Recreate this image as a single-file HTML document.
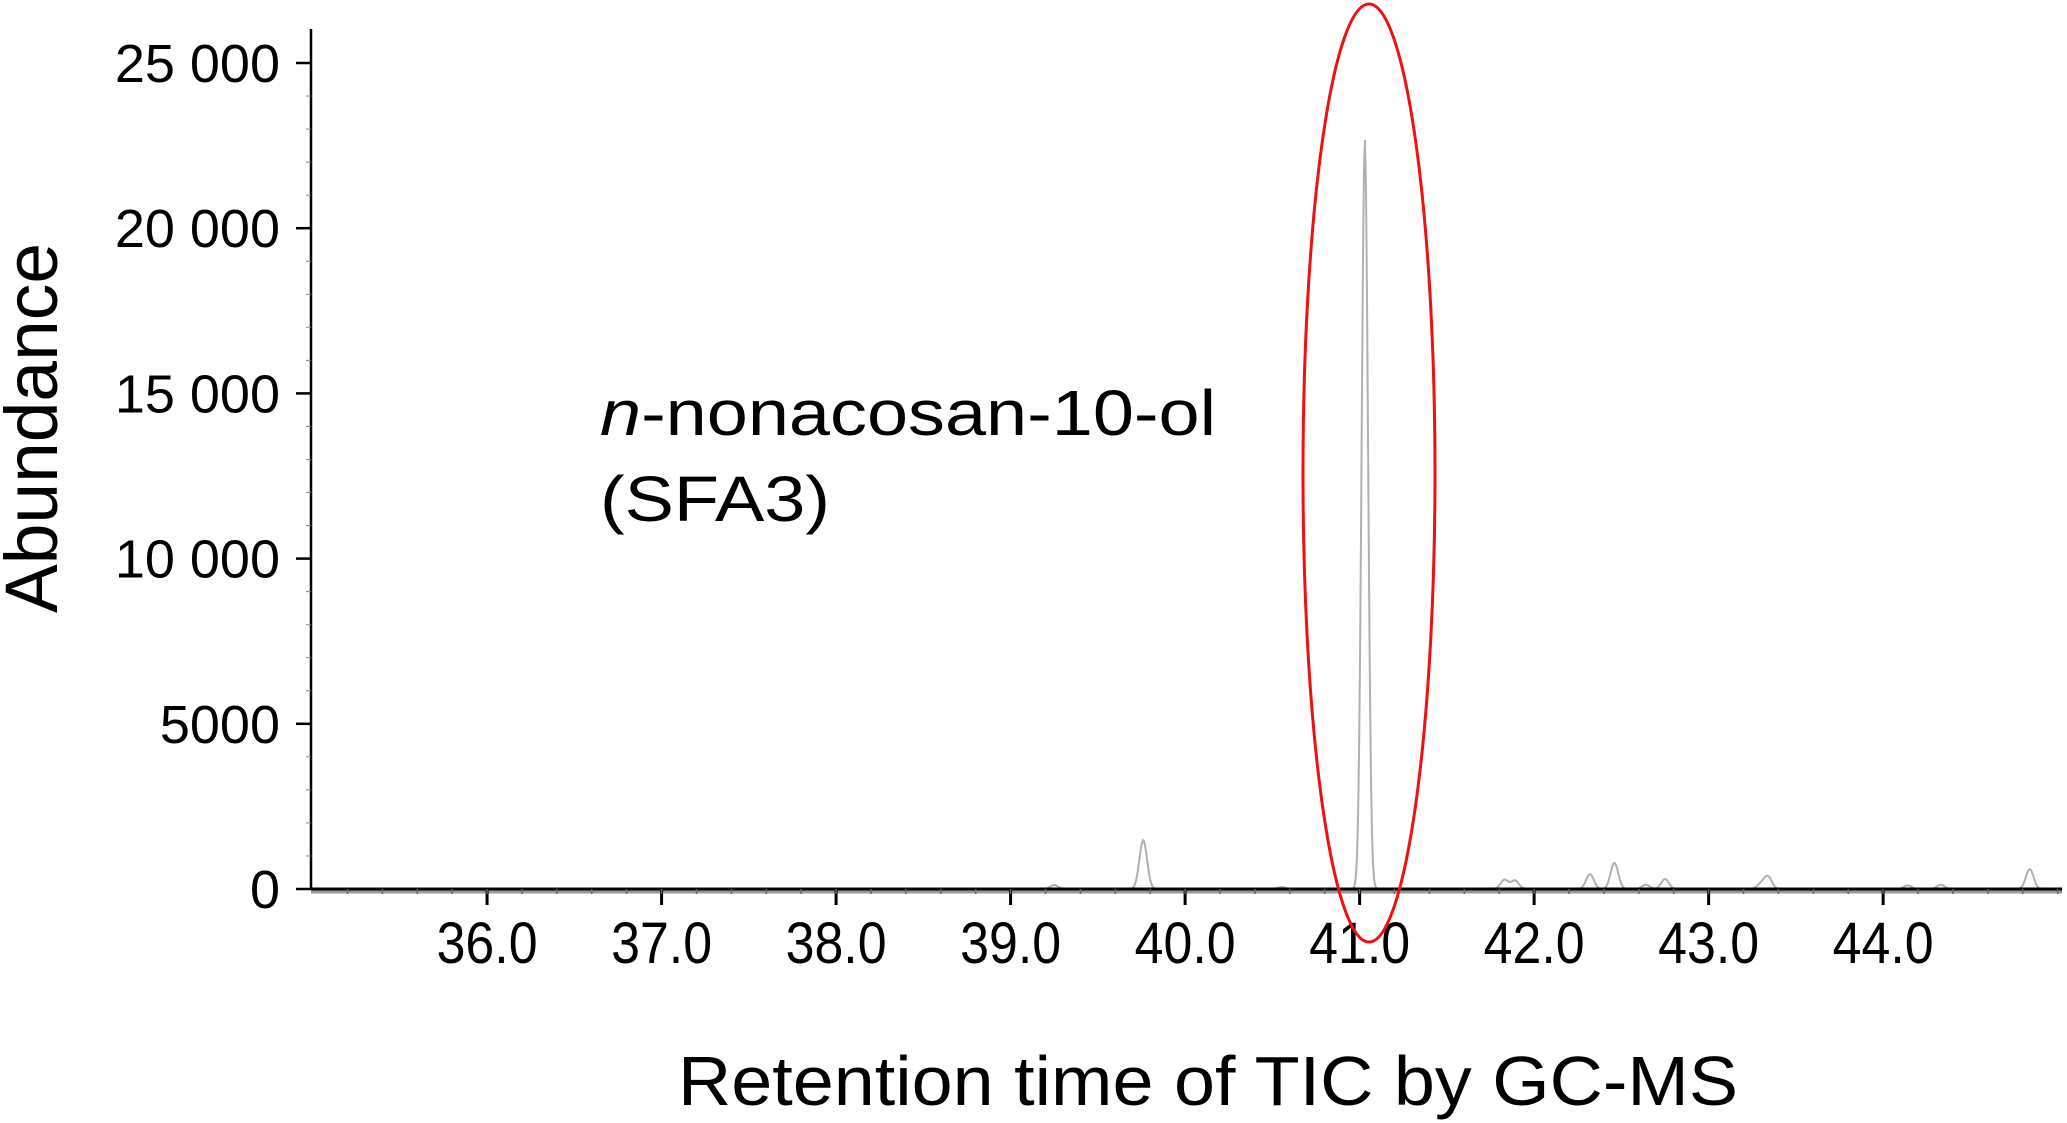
<!DOCTYPE html>
<html><head><meta charset="utf-8"><style>
html,body{margin:0;padding:0;background:#fff;}
svg{display:block;font-family:"Liberation Sans",Arial,sans-serif;}
</style></head><body>
<svg id="chart" width="2067" height="1123" viewBox="0 0 2067 1123" xmlns="http://www.w3.org/2000/svg">
<g id="trace"></g>
<g id="axes"></g>
<text x="0" y="0" transform="translate(57,428) rotate(-90)" text-anchor="middle" font-size="74" textLength="370" lengthAdjust="spacingAndGlyphs">Abundance</text>
<text x="1208" y="1105" text-anchor="middle" font-size="70" textLength="1060" lengthAdjust="spacingAndGlyphs">Retention time of TIC by GC-MS</text>
<text x="600" y="435" font-size="64" textLength="616" lengthAdjust="spacingAndGlyphs"><tspan font-style="italic">n</tspan>-nonacosan-10-ol</text>
<text x="600" y="521" font-size="64" textLength="230" lengthAdjust="spacingAndGlyphs">(SFA3)</text>
<ellipse cx="1369" cy="473" rx="66" ry="469" fill="none" stroke="#ee1111" stroke-width="3"/>
</svg>
<script>
const xTicks = [36.0, 37.0, 38.0, 39.0, 40.0, 41.0, 42.0, 43.0, 44.0];
const xTickLabels = ["36.0","37.0","38.0","39.0","40.0","41.0","42.0","43.0","44.0"];
const yTicks = [0, 5000, 10000, 15000, 20000, 25000];
const yTickLabels = ["0","5000","10 000","15 000","20 000","25 000"];
const peakTimes = [39.25, 39.76, 40.55, 41.03, 41.83, 41.89, 42.32, 42.46, 42.64, 42.75, 43.30, 43.34, 44.14, 44.33, 44.84];
const peakHeights = [120, 1480, 60, 22700, 280, 260, 450, 790, 130, 300, 150, 370, 110, 130, 600];

const X0 = 311, X1 = 2062, Y0 = 889, YTOP = 63;
const xMin = 34.991, xMax = 45.025, yMax = 25000;
const ns = "http://www.w3.org/2000/svg";
function sx(t){ return X0 + (t - xMin) / (xMax - xMin) * (X1 - X0); }
function sy(v){ return Y0 - v / yMax * (Y0 - YTOP); }
function mk(tag, attrs, parent){ const e = document.createElementNS(ns, tag); for (const k in attrs) e.setAttribute(k, attrs[k]); parent.appendChild(e); return e; }

const axes = document.getElementById('axes');
const trace = document.getElementById('trace');

let d = '';
for (let px = X0 + 1; px <= X1; px += 1) {
  const t = xMin + (px - X0) / (X1 - X0) * (xMax - xMin);
  let v = 0;
  for (let i = 0; i < peakTimes.length; i++) {
    const w = i === 3 ? 0.018 : 0.022;
    v += peakHeights[i] * Math.exp(-Math.pow((t - peakTimes[i]) / w, 2) / 2);
  }
  d += (d ? 'L' : 'M') + px + ',' + sy(v).toFixed(2);
}
const tr = mk('path', {d: d, fill: 'none', stroke: '#b0b0b0', 'stroke-width': 2}, trace);



const band = mk('line', {x1: X0, y1: Y0 + 3, x2: X1, y2: Y0 + 3, stroke: '#999', 'stroke-width': 3}, axes);


const yl = mk('line', {x1: X0, y1: 29, x2: X0, y2: Y0, stroke: '#000', 'stroke-width': 2.5}, axes);


const xl = mk('line', {x1: X0, y1: Y0, x2: X1, y2: Y0, stroke: '#000', 'stroke-width': 3}, axes);



yTicks.forEach((v, i) => {
  const y = sy(v);
  const tk = mk('line', {x1: X0 - 15, y1: y, x2: X0, y2: y, stroke: '#000', 'stroke-width': 2.5}, axes);
  
  
  const lb = mk('text', {x: 280, y: y + 19, 'text-anchor': 'end', 'font-size': 54}, axes);
  lb.textContent = yTickLabels[i];
  
  
});
for (let v = 1000; v < yMax; v += 1000) {
  if (v % 5000 === 0) continue;
  const mt = mk('line', {x1: X0 - 5, y1: sy(v), x2: X0, y2: sy(v), stroke: '#888', 'stroke-width': 1}, axes);
  
  
}
xTicks.forEach((t, i) => {
  const x = sx(t);
  const tk = mk('line', {x1: x, y1: Y0, x2: x, y2: Y0 + 16, stroke: '#000', 'stroke-width': 3}, axes);
  
  
  const lb = mk('text', {x: x, y: 963, 'text-anchor': 'middle', 'font-size': 58, textLength: 101, lengthAdjust: 'spacingAndGlyphs'}, axes);
  lb.textContent = xTickLabels[i];
  
  
});
for (let t = 35.2; t < xMax; t += 0.2) {
  const mt = mk('line', {x1: sx(t), y1: Y0, x2: sx(t), y2: Y0 + 5, stroke: '#666', 'stroke-width': 1.5}, axes);
  
  
}
</script>
</body></html>
